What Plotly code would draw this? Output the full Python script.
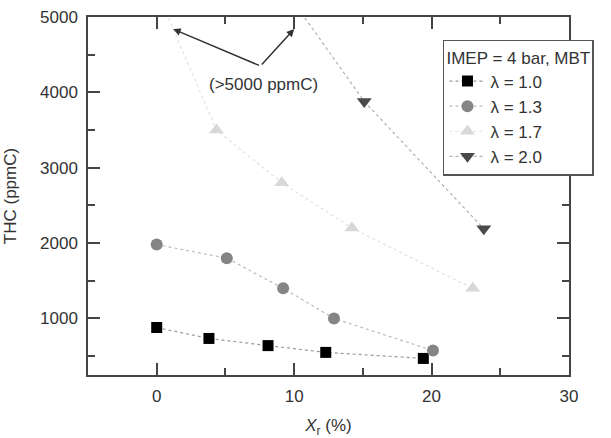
import plotly.graph_objects as go

# data
x_l10 = [0, 3.8, 8.1, 12.3, 19.4]
y_l10 = [880, 735, 640, 550, 470]
x_l13 = [0, 5.1, 9.2, 12.9, 20.1]
y_l13 = [1980, 1800, 1400, 1000, 575]
x_l17 = [0, 4.35, 9.1, 14.2, 23.0]
y_l17 = [5350, 3500, 2800, 2200, 1400]
x_l20 = [8, 15.1, 23.8]
y_l20 = [5700, 3880, 2190]
names = ["λ = 1.0", "λ = 1.3", "λ = 1.7", "λ = 2.0"]

series = [
    (x_l10, y_l10, "square", "#000000", "#9a9a9a", 11),
    (x_l13, y_l13, "circle", "#858585", "#bdbdbd", 12),
    (x_l17, y_l17, "triangle-up", "#d8d8d8", "#e2e2e2", 13),
    (x_l20, y_l20, "triangle-down", "#4a4a4a", "#b0b0b0", 13),
]

fig = go.Figure()
for (xs, ys, sym, mc, lc, sz), nm in zip(series, names):
    fig.add_trace(go.Scatter(
        x=xs, y=ys, name=nm, mode="lines+markers",
        line=dict(color=lc, width=1.2, dash="dot"),
        marker=dict(symbol=sym, color=mc, size=sz, line=dict(width=0)),
    ))

axis_col = "#444444"
font_col = "#333333"
common = dict(
    showline=True, linecolor=axis_col, linewidth=1.5, mirror="ticks",
    ticks="inside", ticklen=12, tickwidth=1.5, tickcolor=axis_col,
    showgrid=False, zeroline=False, automargin=False,
    tickfont=dict(family="Liberation Sans, Arial", size=17, color=font_col),
)

fig.update_xaxes(
    range=[-5, 30], tickvals=[0, 10, 20, 30],
    minor=dict(tickvals=[5, 15, 25], ticks="inside", ticklen=7, tickwidth=1.5, tickcolor=axis_col),
    title=dict(text="<i>X</i><sub>r</sub> (%)", standoff=20,
               font=dict(family="Liberation Sans, Arial", size=17, color=font_col)),
    ticklabelstandoff=5,
    **common,
)
fig.update_yaxes(
    range=[250, 5000], tickvals=[1000, 2000, 3000, 4000, 5000],
    minor=dict(tickvals=[500, 1500, 2500, 3500, 4500], ticks="inside", ticklen=7, tickwidth=1.5, tickcolor=axis_col),
    title=dict(text="THC (ppmC)", standoff=19,
               font=dict(family="Liberation Sans, Arial", size=17, color=font_col)),
    ticklabelstandoff=5,
    **common,
)

# annotation: "(>5000 ppmC)" with two arrows
note_text = "(>5000 ppmC)"
note_pos = (7.75, 4100)
arrow_tail = (7.55, 4350)
arrow_heads = [(1.2, 4840), (10.0, 4840)]

fig.add_annotation(x=note_pos[0], y=note_pos[1], text=note_text, showarrow=False,
                   font=dict(family="Liberation Sans, Arial", size=17, color=font_col))
for hx, hy in arrow_heads:
    fig.add_annotation(x=hx, y=hy, ax=arrow_tail[0], ay=arrow_tail[1],
                       axref="x", ayref="y", xref="x", yref="y", text="",
                       showarrow=True, arrowhead=2, arrowsize=1, arrowwidth=1.5,
                       arrowcolor="#333333")

fig.update_layout(
    width=611, height=438,
    margin=dict(l=88, r=42, t=17, b=63),
    plot_bgcolor="white", paper_bgcolor="white",
    font=dict(family="Liberation Sans, Arial", size=17, color=font_col),
    legend=dict(
        x=0.738, y=0.936, xanchor="left", yanchor="top",
        bgcolor="white", bordercolor="#555555", borderwidth=1.5,
        title=dict(text="IMEP = 4 bar, MBT", font=dict(size=17)),
        font=dict(size=17), tracegroupgap=0, itemwidth=36,
    ),
)

fig.write_html("out.html")
